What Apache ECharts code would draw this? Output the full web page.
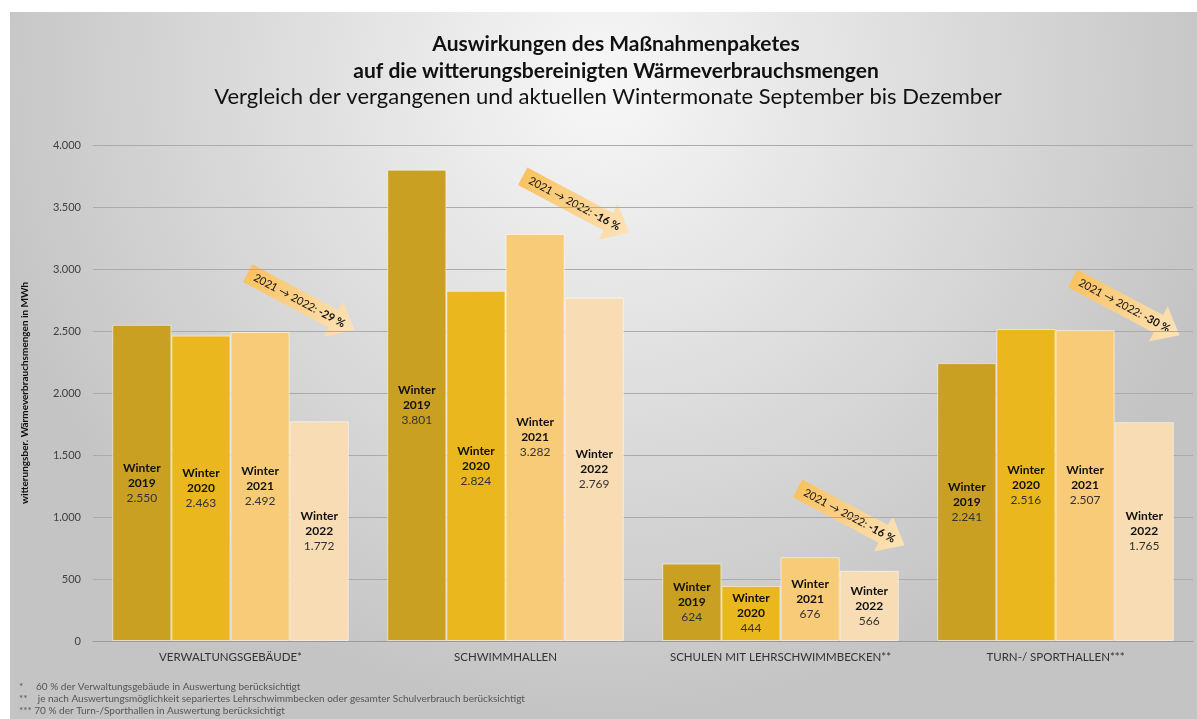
<!DOCTYPE html>
<html>
<head>
<meta charset="utf-8">
<script src="https://cdn.jsdelivr.net/npm/echarts@6/dist/echarts.min.js"></script>
<style>
html,body{margin:0;padding:0;background:#fff;}
#c{width:1197px;height:719px;}
</style>
</head>
<body>
<div id="c"></div>
<script>
const categories = ['VERWALTUNGSGEBÄUDE*', 'SCHWIMMHALLEN', 'SCHULEN MIT LEHRSCHWIMMBECKEN**', 'TURN-/ SPORTHALLEN***'];
const seriesNames = ['Winter 2019', 'Winter 2020', 'Winter 2021', 'Winter 2022'];
const winter2019 = [2550, 3801, 624, 2241];
const winter2020 = [2463, 2824, 444, 2516];
const winter2021 = [2492, 3282, 676, 2507];
const winter2022 = [1772, 2769, 566, 1765];
const yTicks = [0, 500, 1000, 1500, 2000, 2500, 3000, 3500, 4000];
const footnotes = [
  '*     60 % der Verwaltungsgebäude in Auswertung berücksichtigt',
  '**    je nach Auswertungsmöglichkeit separiertes Lehrschwimmbecken oder gesamter Schulverbrauch berücksichtigt',
  '*** 70 % der Turn-/Sporthallen in Auswertung berücksichtigt'
];

const FONT = 'Lato, "Open Sans", sans-serif';
const colors = ['#C9A021', '#EAB71F', '#F8CB78', '#F8DCB3'];
const allSeries = [winter2019, winter2020, winter2021, winter2022];
const fmt = v => String(v).replace(/\B(?=(\d{3})+(?!\d))/g, '.');

const chart = echarts.init(document.getElementById('c'), null, {renderer: 'canvas'});

const series = allSeries.map((data, i) => ({
  name: seriesNames[i],
  type: 'bar',
  data: data,
  barGap: '0%',
  barCategoryGap: '14%',
  itemStyle: {color: colors[i], borderColor: 'rgba(255,255,255,0.55)', borderWidth: 1},
  label: {
    show: true,
    position: 'inside',
    formatter: p => {
      const parts = seriesNames[i].split(' ');
      return '{b|' + parts[0] + '}\n{b|' + parts[1] + '}\n{v|' + fmt(p.value) + '}';
    },
    rich: {
      b: {fontFamily: FONT, fontWeight: 'bold', fontSize: 12, color: '#111', lineHeight: 15},
      v: {fontFamily: FONT, fontSize: 12, color: '#333', lineHeight: 15}
    }
  },
  z: 2
}));

const option = {
  animation: false,
  title: [
    {
      text: 'Auswirkungen des Maßnahmenpaketes\nauf die witterungsbereinigten Wärmeverbrauchsmengen',
      left: 611, top: 26, textAlign: 'center',
      textStyle: {fontFamily: FONT, fontWeight: 'bold', fontSize: 21, color: '#111', lineHeight: 27}
    },
    {
      text: 'Vergleich der vergangenen und aktuellen Wintermonate September bis Dezember',
      left: 603, top: 81, textAlign: 'center',
      textStyle: {fontFamily: FONT, fontWeight: 'normal', fontSize: 22, color: '#111'}
    }
  ],
  grid: {left: 93, right: 4, top: 145, bottom: 78, containLabel: false},
  xAxis: {
    type: 'category',
    data: categories,
    axisTick: {show: false},
    axisLine: {lineStyle: {color: '#999', width: 1}},
    axisLabel: {fontFamily: FONT, fontSize: 11.5, color: '#333', margin: 10, interval: 0}
  },
  yAxis: {
    type: 'value',
    min: yTicks[0], max: yTicks[yTicks.length - 1], interval: yTicks[1] - yTicks[0],
    name: 'witterungsber. Wärmeverbrauchsmengen in MWh',
    nameLocation: 'middle', nameGap: 63,
    nameTextStyle: {fontFamily: FONT, fontWeight: 'bold', fontSize: 10, color: '#111'},
    axisLine: {show: false},
    axisTick: {show: false},
    axisLabel: {fontFamily: FONT, fontSize: 11, color: '#404040', margin: 12, formatter: v => fmt(v)},
    splitLine: {lineStyle: {color: '#ababab', width: 1}}
  },
  series: series,
  graphic: [
    {
      type: 'rect', silent: true, z: -100,
      shape: {x: 10, y: 12, width: 1187, height: 707},
      style: {fill: new echarts.graphic.RadialGradient(0.5, 0.1, 0.9, [
        {offset: 0, color: '#f7f7f7'}, {offset: 1, color: '#c4c4c4'}
      ])}
    }
  ].concat(footnotes.map((t, i) => ({
    type: 'text', left: 19, top: 682 + i * 12,
    style: {text: t, fontFamily: FONT, fontSize: 10, fill: '#555'}
  })))
};
chart.setOption(option);

// annotation arrows (2021 -> 2022 change), anchored to each category's 2021 bar value
const arrowNudgeY = [-2, -1, -12, 5];
const ang = 28 * Math.PI / 180;
const L = 121;
const arrows = categories.map((c, k) => {
  const pct = Math.round((winter2022[k] / winter2021[k] - 1) * 100);
  const p = chart.convertToPixel({xAxisIndex: 0, yAxisIndex: 0}, [k, winter2021[k]]);
  const tipX = p[0] + 124, tipY = p[1] + arrowNudgeY[k];
  const tx = tipX - L * Math.cos(ang), ty = tipY - L * Math.sin(ang);
  const hl = 24, bw = 10, hw = 20;
  return {
    type: 'group', x: tx, y: ty, rotation: -ang, z: 10,
    children: [
      {
        type: 'polygon',
        shape: {points: [[0, -bw], [L - hl, -bw], [L - hl, -hw], [L, 0], [L - hl, hw], [L - hl, bw], [0, bw]]},
        style: {fill: new echarts.graphic.LinearGradient(0, 0, 1, 0, [
          {offset: 0, color: '#F9C261'}, {offset: 1, color: '#FCE3BA'}
        ])}
      },
      {
        type: 'text', x: L / 2 - 2, y: 0,
        style: {
          text: '{n|2021 → 2022: }{p|' + pct + ' %}',
          align: 'center', verticalAlign: 'middle',
          rich: {
            n: {fontFamily: FONT, fontSize: 11, fill: '#111', color: '#111'},
            p: {fontFamily: FONT, fontSize: 11, fontWeight: 'bold', fill: '#111', color: '#111'}
          }
        }
      }
    ]
  };
});
chart.setOption({graphic: option.graphic.concat(arrows)});
</script>
</body>
</html>
